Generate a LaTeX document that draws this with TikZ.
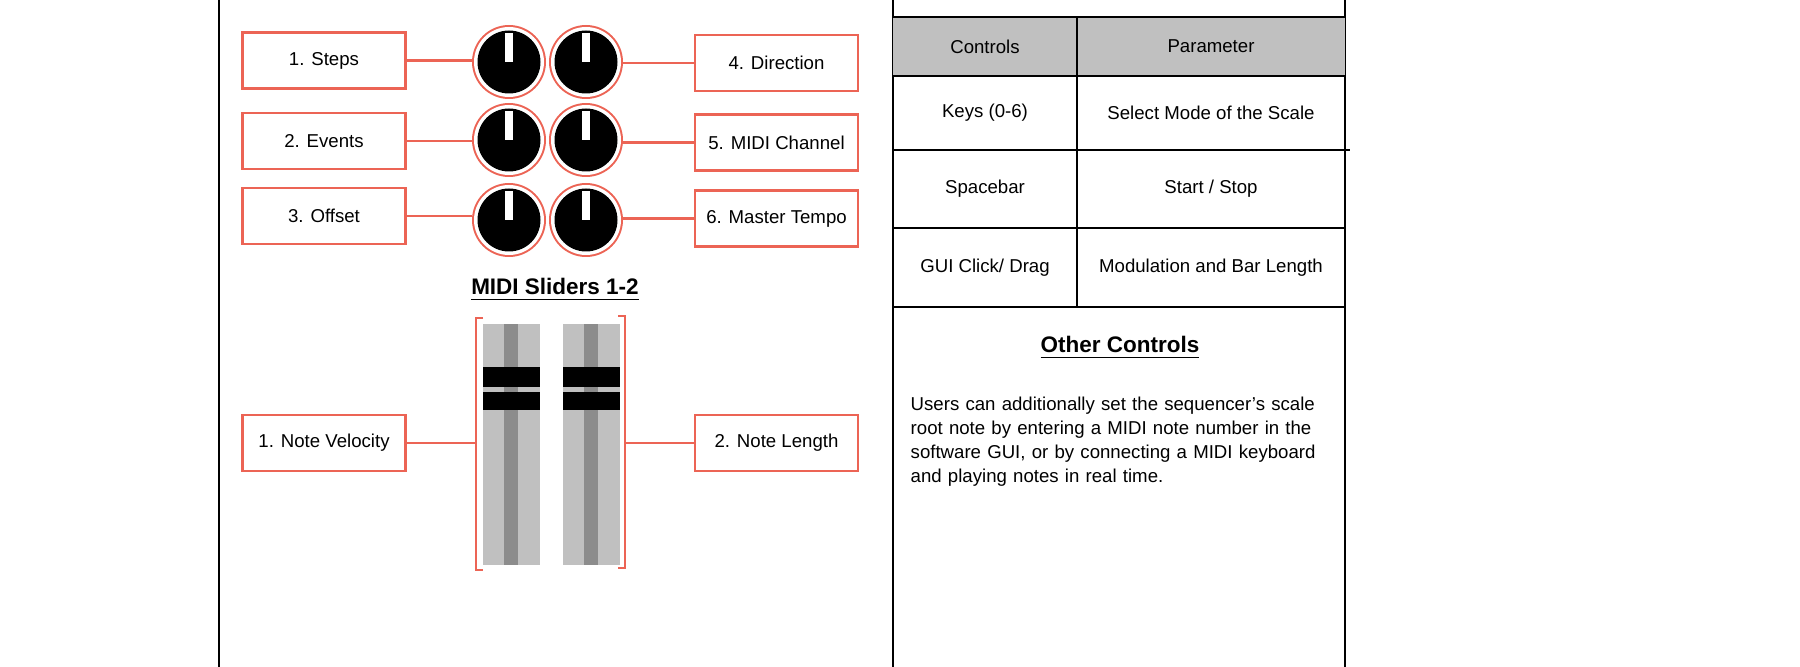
\documentclass[tikz,border=0pt]{standalone}
\usepackage{fontspec}
\setmainfont{Liberation Sans}
\usepackage{xcolor}
\usetikzlibrary{positioning,shapes}
\definecolor{salmon}{RGB}{236,100,85}
\definecolor{railgray}{RGB}{192,192,192}
\definecolor{stripegray}{RGB}{140,140,140}
\tikzset{
  label box/.style={draw=salmon,line width=0.6pt,minimum width=1.63cm,minimum height=0.56cm,inner sep=0pt,font=\fontsize{5.3}{6}\selectfont},
  link/.style={draw=salmon,line width=0.6pt},
  cell/.style={font=\fontsize{5.3}{6}\selectfont,inner sep=0pt},
  rule/.style={line width=0.6pt}
}
\newcommand{\knob}[3]{%
  \fill[salmon] (#1,#2) circle (0.37);
  \fill[white] (#1,#2) circle (0.35);
  \fill[black] (#1,#2) circle (0.315);
  \fill[white] (#1-0.04,#2) rectangle (#1+0.04,#2+0.29);
  \coordinate (#3) at (#1,#2);}
\newcommand{\fader}[2]{%
  \fill[railgray] (#1,-3.24) rectangle (#1+0.57,-5.65);
  \fill[stripegray] (#1+0.21,-3.24) rectangle (#1+0.35,-5.65);
  \fill[black] (#1,-3.67) rectangle (#1+0.57,-3.87);
  \fill[black] (#1,-3.92) rectangle (#1+0.57,-4.10);
  \coordinate (#2) at (#1+0.28,-4.45);}
\begin{document}
\begin{tikzpicture}
\useasboundingbox (0,0) rectangle (18,-6.67);
% frame and table rules
\draw[rule] (2.19,0) -- (2.19,-6.67);
\draw[rule] (8.93,0) -- (8.93,-6.67);
\draw[rule] (13.45,0) -- (13.45,-6.67);
\fill[railgray] (8.93,-0.17) rectangle (13.45,-0.76);
\draw[rule] (8.93,-0.17) -- (13.45,-0.17);
\draw[rule] (10.77,-0.17) -- (10.77,-3.07);
\foreach \y in {0.76,2.28,3.07} \draw[rule] (8.93,-\y) -- (13.45,-\y);
\draw[rule] (8.93,-1.50) -- (13.50,-1.50);
% table text
\node[cell] (hc) at (9.85,-0.465) {Controls};
\node[cell] (hp) at (12.11,-0.465) {Parameter};
\node[cell] (c1) at (9.85,-1.13) {Keys (0-6)};
\node[cell] (p1) at (12.11,-1.13) {Select Mode of the Scale};
\node[cell] (c2) at (9.85,-1.89) {Spacebar};
\node[cell] (p2) at (12.11,-1.89) {Start / Stop};
\node[cell] (c3) at (9.85,-2.68) {GUI Click/ Drag};
\node[cell] (p3) at (12.11,-2.68) {Modulation and Bar Length};
\node[cell,font=\fontsize{6.4}{7}\bfseries] (other) at (11.20,-3.48) {\underline{Other Controls}};
\node[cell,anchor=north west,align=left,text width=4.3cm,font=\fontsize{5.3}{6.9}\selectfont] (note) at (9.10,-3.96)
  {Users can additionally set the sequencer’s scale root note by entering a MIDI note number in the software GUI, or by connecting a MIDI keyboard and playing notes in real time.};
% knobs
\knob{5.09}{-0.62}{k1}
\knob{5.86}{-0.62}{k4}
\knob{5.09}{-1.40}{k2}
\knob{5.86}{-1.40}{k5}
\knob{5.09}{-2.20}{k3}
\knob{5.86}{-2.20}{k6}
\node[label box] (steps) at (3.24,-0.605) {1. Steps};
\node[label box] (events) at (3.24,-1.41) {2. Events};
\node[label box] (offset) at (3.24,-2.16) {3. Offset};
\node[label box] (dir) at (7.765,-0.63) {4. Direction};
\node[label box] (chan) at (7.765,-1.425) {5. MIDI Channel};
\node[label box] (tempo) at (7.765,-2.185) {6. Master Tempo};
\draw[link] (steps.east) -- ([xshift=-0.37cm]k1 |- steps.east);
\draw[link] (events.east) -- ([xshift=-0.37cm]k2 |- events.east);
\draw[link] (offset.east) -- ([xshift=-0.37cm]k3 |- offset.east);
\draw[link] (dir.west) -- ([xshift=0.37cm]k4 |- dir.west);
\draw[link] (chan.west) -- ([xshift=0.37cm]k5 |- chan.west);
\draw[link] (tempo.west) -- ([xshift=0.37cm]k6 |- tempo.west);
% sliders
\node[cell,font=\fontsize{6.4}{7}\bfseries] (title) at (5.55,-2.90) {\underline{MIDI Sliders 1-2}};
\fader{4.83}{s1}
\fader{5.63}{s2}
\draw[link] (4.83,-3.18) -- (4.76,-3.18) -- (4.76,-5.70) -- (4.83,-5.70);
\draw[link] (6.18,-3.16) -- (6.25,-3.16) -- (6.25,-5.68) -- (6.18,-5.68);
\coordinate (bl) at (4.76,-4.43);
\coordinate (br) at (6.25,-4.43);
\node[label box] (vel) at (3.24,-4.43) {1. Note Velocity};
\node[label box] (len) at (7.765,-4.43) {2. Note Length};
\draw[link] (vel.east) -- (bl);
\draw[link] (len.west) -- (br);
\end{tikzpicture}
\end{document}
